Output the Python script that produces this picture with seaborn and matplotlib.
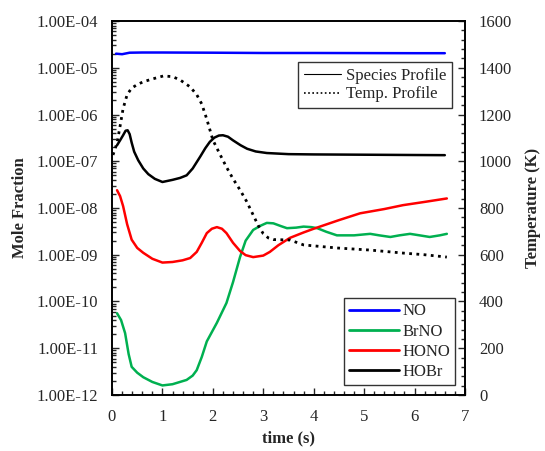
import numpy as np
import pandas as pd
import seaborn as sns
import matplotlib
matplotlib.use("Agg")
import matplotlib.pyplot as plt
from matplotlib.lines import Line2D
from matplotlib.ticker import FuncFormatter, LogLocator, MultipleLocator, NullFormatter

# --- data ---
t_no = [0.08, 0.2, 0.35, 0.6, 1.0, 2.0, 3.0, 4.0, 5.0, 6.0, 6.6]
no = [2.0e-5, 1.95e-5, 2.1e-5, 2.12e-5, 2.12e-5, 2.1e-5, 2.07e-5, 2.07e-5, 2.06e-5, 2.05e-5, 2.05e-5]

t_hobr = [0.1, 0.16, 0.22, 0.27, 0.31, 0.35, 0.39, 0.44, 0.52, 0.62, 0.72, 0.85, 1.0, 1.2, 1.35,
          1.48, 1.6, 1.75, 1.85, 1.94, 2.03, 2.12, 2.2, 2.3, 2.4, 2.55, 2.68, 2.85, 3.07, 3.5,
          4.0, 5.0, 6.0, 6.6]
hobr = [2.2e-7, 2.8e-7, 3.6e-7, 4.5e-7, 4.6e-7, 3.8e-7, 2.5e-7, 1.6e-7, 1.05e-7, 7.0e-8, 5.3e-8,
        4.2e-8, 3.6e-8, 4.0e-8, 4.4e-8, 5.0e-8, 7.0e-8, 1.26e-7, 1.9e-7, 2.6e-7, 3.2e-7, 3.55e-7,
        3.6e-7, 3.35e-7, 2.8e-7, 2.2e-7, 1.85e-7, 1.62e-7, 1.5e-7, 1.42e-7, 1.4e-7, 1.38e-7,
        1.36e-7, 1.35e-7]

t_hono = [0.1, 0.16, 0.22, 0.3, 0.39, 0.5, 0.62, 0.8, 1.0, 1.2, 1.4, 1.55, 1.68, 1.78, 1.88, 1.98,
          2.08, 2.18, 2.27, 2.4, 2.54, 2.65, 2.8, 3.0, 3.13, 3.3, 3.53, 3.8, 4.0, 4.5, 4.92, 5.4,
          5.77, 6.2, 6.64]
hono = [2.4e-8, 1.8e-8, 1.1e-8, 4.5e-9, 2.1e-9, 1.4e-9, 1.1e-9, 8.2e-10, 6.8e-10, 7.0e-10,
        7.6e-10, 8.5e-10, 1.15e-9, 1.8e-9, 2.9e-9, 3.6e-9, 3.9e-9, 3.6e-9, 2.9e-9, 1.8e-9,
        1.2e-9, 9.8e-10, 8.9e-10, 9.6e-10, 1.15e-9, 1.6e-9, 2.3e-9, 3.0e-9, 3.6e-9, 5.5e-9,
        7.7e-9, 9.5e-9, 1.15e-8, 1.35e-8, 1.6e-8]

t_brno = [0.1, 0.18, 0.26, 0.33, 0.39, 0.5, 0.62, 0.8, 1.0, 1.2, 1.48, 1.6, 1.68, 1.78, 1.88, 2.08,
          2.27, 2.4, 2.54, 2.65, 2.8, 2.95, 3.07, 3.2, 3.35, 3.47, 3.65, 3.8, 3.95, 4.07, 4.25,
          4.46, 4.8, 5.12, 5.3, 5.52, 5.7, 5.91, 6.1, 6.3, 6.5, 6.64]
brno = [5.6e-11, 4e-11, 2.1e-11, 7.5e-12, 4.0e-12, 3.0e-12, 2.4e-12, 1.9e-12, 1.6e-12, 1.7e-12,
        2.1e-12, 2.6e-12, 3.4e-12, 6.5e-12, 1.4e-11, 3.5e-11, 9.3e-11, 2.6e-10, 9.0e-10, 2.0e-9,
        3.4e-9, 4.2e-9, 4.8e-9, 4.7e-9, 4.1e-9, 3.7e-9, 3.8e-9, 4.0e-9, 3.9e-9, 3.7e-9, 3.1e-9,
        2.6e-9, 2.6e-9, 2.8e-9, 2.6e-9, 2.4e-9, 2.6e-9, 2.8e-9, 2.6e-9, 2.4e-9, 2.6e-9, 2.8e-9]

t_temp = [0.02, 0.1, 0.16, 0.22, 0.3, 0.39, 0.5, 0.62, 0.8, 1.02, 1.2, 1.35, 1.55, 1.68, 1.78,
          1.88, 2.0, 2.14, 2.27, 2.4, 2.54, 2.67, 2.8, 2.9, 3.0, 3.1, 3.2, 3.53, 3.8, 4.46, 5.12,
          5.78, 6.2, 6.64]
temp = [1027, 1078, 1150, 1225, 1285, 1313, 1328, 1340, 1352, 1365, 1362, 1348, 1318, 1285, 1245,
        1180, 1091, 1030, 975, 925, 877, 828, 770, 725, 690, 672, 665, 663, 642, 629, 620, 607,
        600, 590]

species = ["NO", "BrNO", "HONO", "HOBr"]
colors = ["#0000ff", "#00b050", "#ff0000", "#000000"]

frames = []
for name, tt, vv in [("NO", t_no, no), ("BrNO", t_brno, brno),
                     ("HONO", t_hono, hono), ("HOBr", t_hobr, hobr)]:
    frames.append(pd.DataFrame({"time": tt, "frac": vv, "species": name}))
df = pd.concat(frames, ignore_index=True)
df_t = pd.DataFrame({"time": t_temp, "T": temp})

sns.set_style("ticks")
plt.rcParams["font.family"] = ["Liberation Serif", "DejaVu Serif"]
plt.rcParams["font.size"] = 12
plt.rcParams["lines.solid_joinstyle"] = "round"

fig = plt.figure(figsize=(5.45, 4.51), dpi=100)
ax = fig.add_axes([0.2055, 0.1242, 0.6477, 0.8292])

sns.lineplot(data=df, x="time", y="frac", hue="species", hue_order=species,
             palette=colors, estimator=None, sort=True, lw=1.8, ax=ax, legend=False)
ax.set_yscale("log")
ax.set_ylim(1e-12, 1e-4)
ax.set_xlim(0, 7)
ax.yaxis.set_major_locator(LogLocator(base=10, numticks=20))
ax.yaxis.set_minor_locator(LogLocator(base=10, subs=np.arange(2, 10), numticks=20))
ax.yaxis.set_minor_formatter(NullFormatter())
ax.yaxis.set_major_formatter(FuncFormatter(lambda v, p: f"{v:.2E}"))
ax.xaxis.set_major_locator(MultipleLocator(1))
ax.xaxis.set_minor_locator(MultipleLocator(0.2))
ax.tick_params(which="both", direction="in", top=False, right=False, width=1, pad=10)
ax.tick_params(which="major", length=5, labelsize=12)
ax.tick_params(which="minor", length=3)
ax.set_xlabel("time (s)", fontweight="bold", fontsize=12, labelpad=4)
ax.set_ylabel("Mole Fraction", fontweight="bold", fontsize=12, labelpad=6)

ax2 = ax.twinx()
sns.lineplot(data=df_t, x="time", y="T", color="black", lw=2,
             linestyle=(0, (1, 1.6)), estimator=None, ax=ax2)
ax2.set_ylim(0, 1600)
ax2.yaxis.set_major_locator(MultipleLocator(200))
ax2.yaxis.set_minor_locator(MultipleLocator(40))
ax2.tick_params(which="both", direction="in", width=1, pad=10)
ax2.tick_params(which="major", length=5, labelsize=12)
ax2.tick_params(which="minor", length=3)
ax2.set_ylabel("Temperature (K)", fontweight="bold", fontsize=12, labelpad=9)
for a in (ax, ax2):
    for s in a.spines.values():
        s.set_linewidth(1.2)
        s.set_color("black")

# species legend
handles = [Line2D([0], [0], color=c, lw=2) for c in colors]
leg = ax2.legend(handles, species, loc="lower right", bbox_to_anchor=(0.972, 0.027),
                 borderaxespad=0, frameon=True, fancybox=False, edgecolor="black",
                 fontsize=12, handlelength=3, handletextpad=0.2, labelspacing=0.25,
                 borderpad=0.3)
leg.get_frame().set_linewidth(1)
ax2.add_artist(leg)

# profile style legend
phandles = [Line2D([0], [0], color="black", lw=0.8),
            Line2D([0], [0], color="black", lw=1.2, linestyle=(0, (1, 1.5)))]
leg2 = ax2.legend(phandles, ["Species Profile", "Temp. Profile"], loc="upper right",
                  bbox_to_anchor=(0.963, 0.890), borderaxespad=0, frameon=True,
                  fancybox=False, edgecolor="black", fontsize=12, handlelength=2.2,
                  handletextpad=0.3, labelspacing=0.15, borderpad=0.35)
leg2.get_frame().set_linewidth(1)

fig.savefig("out.png", dpi=100)
